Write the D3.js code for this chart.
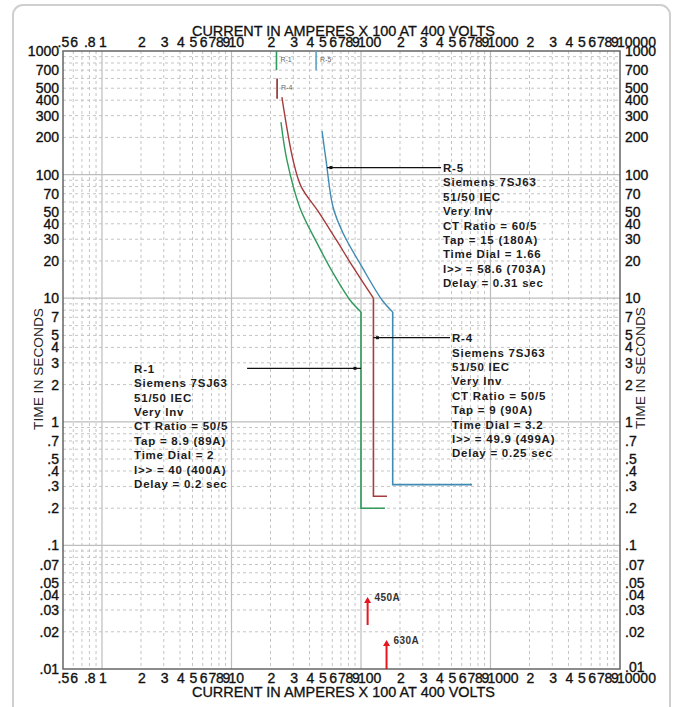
<!DOCTYPE html>
<html><head><meta charset="utf-8">
<script src="https://cdn.jsdelivr.net/npm/d3@7"></script>
<style>body{margin:0;background:#fff}svg{display:block}</style>
</head><body><svg id="c" width="677" height="707"></svg>
<script>
// ---------- data ----------
const xTickValues = [0.5,0.6,0.8,1,2,3,4,5,6,7,8,9,10,20,30,40,50,60,70,80,90,100,200,300,400,500,600,700,800,900,1000,2000,3000,4000,5000,6000,7000,8000,9000,10000];
const xTickLabels = [".5","6",".8","1","2","3","4","5","6","7","8","9","10","2","3","4","5","6","7","8","9","100","2","3","4","5","6","7","8","9","1000","2","3","4","5","6","7","8","9","10000"];
const yTickValues = [1000,700,500,400,300,200,100,70,50,40,30,20,10,7,5,4,3,2,1,0.7,0.5,0.4,0.3,0.2,0.1,0.07,0.05,0.04,0.03,0.02,0.01];
const yTickLabels = ["1000","700","500","400","300","200","100","70","50","40","30","20","10","7","5","4","3","2","1",".7",".5",".4",".3",".2",".1",".07",".05",".04",".03",".02",".01"];
const xMajor = [1,10,100,1000];
const yMajor = [100,10,1,0.1];

// R-1 (green)
const r1Current = [24.1, 26.8, 33.8, 45.7, 60.8, 82.2, 100];
const r1Time    = [266, 131, 53.7, 28, 16, 9.67, 7.73];
const r1TailCurrent = [100, 100, 153];
const r1TailTime    = [7.73, 0.2, 0.2];
// R-4 (red)
const r4Current = [24.5, 29.9, 34.5, 47, 64.5, 86.7, 124.75];
const r4Time    = [424, 131, 80, 50, 29.6, 17.9, 10];
const r4TailCurrent = [124.75, 124.75, 158.8];
const r4TailTime    = [10, 0.25, 0.25];
// R-5 (blue)
const r5Current = [50, 53.7, 60.8, 72.6, 101.8, 145.3, 175.75];
const r5Time    = [225, 131, 54.7, 33.7, 17.9, 9.67, 7.73];
const r5TailCurrent = [175.75, 175.75, 720];
const r5TailTime    = [7.73, 0.31, 0.31];

// pickup markers at top
const markerNames   = ["R-1","R-5","R-4"];
const markerCurrent = [22.25, 45, 22.5];
const markerTop     = [1000, 1000, 600];
const markerBottom  = [700, 700, 410];

// relay annotations
const r1Text = ["R-1","Siemens 7SJ63","51/50 IEC","Very Inv","CT Ratio = 50/5","Tap = 8.9 (89A)","Time Dial = 2","I>> = 40 (400A)","Delay = 0.2 sec"];
const r4Text = ["R-4","Siemens 7SJ63","51/50 IEC","Very Inv","CT Ratio = 50/5","Tap = 9 (90A)","Time Dial = 3.2","I>> = 49.9 (499A)","Delay = 0.25 sec"];
const r5Text = ["R-5","Siemens 7SJ63","51/50 IEC","Very Inv","CT Ratio = 60/5","Tap = 15 (180A)","Time Dial = 1.66","I>> = 58.6 (703A)","Delay = 0.31 sec"];
// leader: [curve current, text current, time]
const r1Leader = [100, 13.2, 2.71];
const r4Leader = [124.75, 487, 4.79];
const r5Leader = [54.6, 415, 114];

// fault current arrows
const arrowLabels  = ["450A","630A"];
const arrowCurrent = [112.5, 157.5];
const arrowFrom    = [0.0227, 0.01];
const arrowTo      = [0.0382, 0.0172];

// ---------- chart ----------
const svg = d3.select("#c");
const L = 63, R = 620, T = 51, B = 669;
const x = d3.scaleLog().domain([0.5, 10000]).range([L, R]);
const y = d3.scaleLog().domain([0.01, 1000]).range([B, T]);
const FONT = "'Liberation Sans', Arial, sans-serif";

// outer frame
svg.append("rect").attr("x", 13).attr("y", 5).attr("width", 657).attr("height", 720)
  .attr("rx", 10).attr("fill", "none").attr("stroke", "#cfcfcf").attr("stroke-width", 2);

const g = svg.append("g");

// minor grid
const xMinor = [];
[0.1,1,10,100,1000].forEach(d => { for (let k = 2; k <= 9; k++) { const v = d*k; if (v > 0.5 && v < 10000) xMinor.push(v); } });
const yMinor = [];
[0.01,0.1,1,10,100].forEach(d => { for (let k = 2; k <= 9; k++) yMinor.push(d*k); });

g.selectAll(".vmin").data(xMinor).join("line")
  .attr("x1", d => x(d)).attr("x2", d => x(d)).attr("y1", T).attr("y2", B)
  .attr("stroke", "#c4c4c4").attr("stroke-dasharray", "3,3").attr("stroke-width", 1);
g.selectAll(".hmin").data(yMinor).join("line")
  .attr("y1", d => y(d)).attr("y2", d => y(d)).attr("x1", L).attr("x2", R)
  .attr("stroke", "#c4c4c4").attr("stroke-dasharray", "3,3").attr("stroke-width", 1);
g.selectAll(".vmaj").data(xMajor).join("line")
  .attr("x1", d => x(d)).attr("x2", d => x(d)).attr("y1", T).attr("y2", B)
  .attr("stroke", "#bdbdbd").attr("stroke-width", 1.2);
g.selectAll(".hmaj").data(yMajor).join("line")
  .attr("y1", d => y(d)).attr("y2", d => y(d)).attr("x1", L).attr("x2", R)
  .attr("stroke", "#bdbdbd").attr("stroke-width", 1.2);

// plot border
g.append("rect").attr("x", L).attr("y", T).attr("width", R-L).attr("height", B-T)
  .attr("fill", "none").attr("stroke", "#666").attr("stroke-width", 1.5);

// axes labels
function styleAxis(sel) {
  sel.select(".domain").remove();
  sel.selectAll("line").remove();
  sel.selectAll("text").attr("font-family", FONT).attr("font-size", 14).attr("fill", "#111")
    .attr("stroke", "#111").attr("stroke-width", 0.35);
}
const fmtX = (d, i) => xTickLabels[i];
const axTop = svg.append("g").attr("transform", `translate(0,${T})`)
  .call(d3.axisTop(x).tickValues(xTickValues).tickFormat(fmtX).tickSize(0).tickPadding(4));
styleAxis(axTop);
axTop.selectAll("text").attr("text-anchor", "start").attr("dx", (d,i) => xTickLabels[i][0] === "." ? -6 : -3.5);
const axBot = svg.append("g").attr("transform", `translate(0,${B})`)
  .call(d3.axisBottom(x).tickValues(xTickValues).tickFormat(fmtX).tickSize(0).tickPadding(4));
styleAxis(axBot);
axBot.selectAll("text").attr("text-anchor", "start").attr("dx", (d,i) => xTickLabels[i][0] === "." ? -6 : -3.5);

const fmtY = (d, i) => yTickLabels[i];
const axLeft = svg.append("g").attr("transform", `translate(${L},0)`)
  .call(d3.axisLeft(y).tickValues(yTickValues).tickFormat(fmtY).tickSize(0).tickPadding(4));
styleAxis(axLeft);
const axRight = svg.append("g").attr("transform", `translate(${R},0)`)
  .call(d3.axisRight(y).tickValues(yTickValues).tickFormat(fmtY).tickSize(0).tickPadding(5));
styleAxis(axRight);
axRight.selectAll("text").attr("dy", (d) => d === 0.01 ? "0.15em" : "0.32em");

// titles
const xTitle = "CURRENT IN AMPERES X 100 AT 400 VOLTS";
[35.5, 697].forEach(ty => {
  svg.append("text").attr("x", 192).attr("y", ty).text(xTitle)
    .attr("font-family", FONT).attr("font-size", 14).attr("fill", "#111")
    .attr("stroke", "#111").attr("stroke-width", 0.3)
    .attr("textLength", 303).attr("lengthAdjust", "spacingAndGlyphs");
});
[[38, 369], [640, 368]].forEach(([cx, cy]) => {
  svg.append("text").attr("transform", `translate(${cx + 5},${cy}) rotate(-90)`)
    .attr("text-anchor", "middle").text("TIME IN SECONDS")
    .attr("font-family", FONT).attr("font-size", 13.5).attr("fill", "#222")
    .attr("textLength", 122).attr("lengthAdjust", "spacingAndGlyphs");
});

// curves
const line = d3.line().x(d => x(d[0])).y(d => y(d[1]));
const smooth = d3.line().x(d => x(d[0])).y(d => y(d[1])).curve(d3.curveCatmullRom.alpha(0.5));
const zip = (a, b) => a.map((v, i) => [v, b[i]]);
const curves = [
  {c: r1Current, t: r1Time, tc: r1TailCurrent, tt: r1TailTime, col: "#2f9a5c"},
  {c: r4Current, t: r4Time, tc: r4TailCurrent, tt: r4TailTime, col: "#a63b3b"},
  {c: r5Current, t: r5Time, tc: r5TailCurrent, tt: r5TailTime, col: "#3f8bb3"}
];
curves.forEach(cv => {
  svg.append("path").attr("d", smooth(zip(cv.c, cv.t))).attr("fill", "none")
    .attr("stroke", cv.col).attr("stroke-width", 1.4);
  svg.append("path").attr("d", line(zip(cv.tc, cv.tt))).attr("fill", "none")
    .attr("stroke", cv.col).attr("stroke-width", 1.6);
});

// pickup markers
const markerCols = ["#2f9a5c", "#5aa3c4", "#8e2a2a"];
markerNames.forEach((n, i) => {
  svg.append("line").attr("x1", x(markerCurrent[i])).attr("x2", x(markerCurrent[i]))
    .attr("y1", y(markerTop[i])).attr("y2", y(markerBottom[i]))
    .attr("stroke", markerCols[i]).attr("stroke-width", 1.6);
  svg.append("text").attr("x", x(markerCurrent[i]) + 4).attr("y", (y(markerTop[i]) + y(markerBottom[i]))/2 + 1.5)
    .text(n).attr("font-family", FONT).attr("font-size", 7).attr("fill", "#666");
});

// annotations
function annotate(lines, leader, textLeft) {
  const ly = y(leader[2]);
  const xc = x(leader[0]), xt = x(leader[1]);
  svg.append("line").attr("x1", xc).attr("x2", xt).attr("y1", ly).attr("y2", ly)
    .attr("stroke", "#111").attr("stroke-width", 1.2);
  const mx = xt < xc ? xc - 6 : xc + 4;
  svg.append("rect").attr("x", mx - 1.5).attr("y", ly - 1.5).attr("width", 3).attr("height", 3).attr("fill", "#111");
  const tx = textLeft !== undefined ? textLeft : xt + 2;
  const t = svg.append("text").attr("font-family", FONT).attr("font-size", 11.5)
    .attr("font-weight", "bold").attr("fill", "#1c1c1c").attr("letter-spacing", 0.75);
  lines.forEach((s, i) => t.append("tspan").attr("x", tx).attr("y", ly + 4.5 + i*14.4).text(s));
}
annotate(r5Text, r5Leader);
annotate(r4Text, r4Leader);
annotate(r1Text, r1Leader, x(1.77));

// arrows
arrowLabels.forEach((lab, i) => {
  const ax = x(arrowCurrent[i]), y0 = y(arrowFrom[i]), y1 = y(arrowTo[i]);
  svg.append("line").attr("x1", ax).attr("x2", ax).attr("y1", y0).attr("y2", y1 + 5)
    .attr("stroke", "#e8141e").attr("stroke-width", 2);
  svg.append("path").attr("d", `M${ax-3.5},${y1+6}L${ax},${y1}L${ax+3.5},${y1+6}Z`).attr("fill", "#e8141e");
  svg.append("text").attr("x", ax + 7).attr("y", y1 + 4).text(lab)
    .attr("font-family", FONT).attr("font-size", 10).attr("font-weight", "bold")
    .attr("letter-spacing", 0.4).attr("fill", "#333");
});
</script></body></html>
